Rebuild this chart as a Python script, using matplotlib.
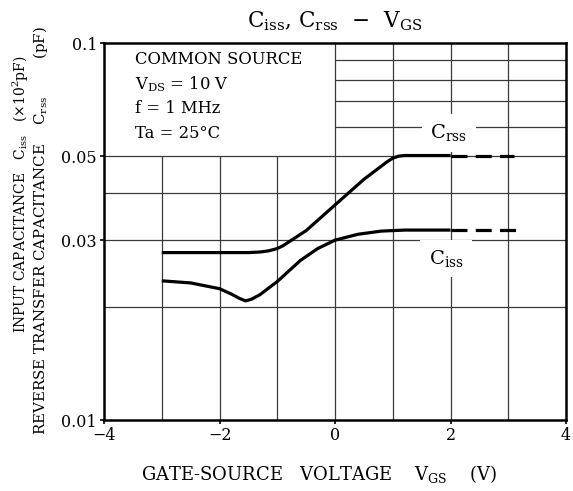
import numpy as np
import matplotlib
matplotlib.use('Agg')
import matplotlib.pyplot as plt

plt.rcParams['font.family'] = 'DejaVu Serif'
plt.rcParams['mathtext.fontset'] = 'dejavuserif'

# --- data ---
crss_x = [-3.0, -2.5, -2.0, -1.5, -1.3, -1.15, -1.0, -0.9, -0.5, 0.0, 0.5, 0.9, 1.0, 1.1, 1.2, 1.5, 2.0]
crss_y = [0.0278, 0.0278, 0.0278, 0.0278, 0.0279, 0.0281, 0.0285, 0.0290, 0.0318, 0.0372, 0.0435, 0.0484, 0.0495, 0.0501, 0.0503, 0.0503, 0.0503]
crss_dash_x = [2.0, 3.1]
crss_dash_y = [0.0503, 0.0503]

ciss_x = [-3.0, -2.5, -2.0, -1.8, -1.65, -1.55, -1.45, -1.3, -1.0, -0.6, -0.3, 0.0, 0.4, 0.8, 1.2, 1.5, 2.0]
ciss_y = [0.0234, 0.0231, 0.0223, 0.0216, 0.0210, 0.0207, 0.0209, 0.0215, 0.0233, 0.0265, 0.0285, 0.0300, 0.0311, 0.0317, 0.0319, 0.0319, 0.0319]
ciss_dash_x = [2.0, 3.15]
ciss_dash_y = [0.0319, 0.0319]

yticks = [0.01, 0.03, 0.05, 0.1]
ytick_labels = ['0.01', '0.03', '0.05', '0.1']
xticks = [-4, -2, 0, 2, 4]
xtick_labels = ['\u22124', '\u22122', '0', '2', '4']

conditions = ['COMMON SOURCE', r'$\mathrm{V_{DS}}$ = 10 V', 'f = 1 MHz', 'Ta = 25\u00b0C']

fig = plt.figure(figsize=(5.73, 4.91), dpi=100)
ax = fig.add_axes([0.1815, 0.1446, 0.8065, 0.7678])
ax.set_yscale('log')
ax.set_xlim(-4, 4)
ax.set_ylim(0.01, 0.1)

# grid (legend box area top-left left blank)
gc = '#3a3a3a'
glw = 0.9
for v in [0.02, 0.03, 0.04, 0.05]:
    ax.axhline(v, color=gc, lw=glw, zorder=1)
for v in [0.06, 0.07, 0.08, 0.09]:
    ax.hlines(v, 0, 4, color=gc, lw=glw, zorder=1)
for v in [-3, -2, -1]:
    ax.vlines(v, 0.01, 0.05, color=gc, lw=glw, zorder=1)
for v in [0, 1, 2, 3]:
    ax.vlines(v, 0.01, 0.1, color=gc, lw=glw, zorder=1)

ax.plot(crss_x, crss_y, color='black', lw=2.3, solid_capstyle='butt', zorder=3)
ax.plot(crss_dash_x, crss_dash_y, color='black', lw=2.3, dashes=(5, 2.6), zorder=3)
ax.plot(ciss_x, ciss_y, color='black', lw=2.3, solid_capstyle='butt', zorder=3)
ax.plot(ciss_dash_x, ciss_dash_y, color='black', lw=2.3, dashes=(5, 2.6), zorder=3)

box = dict(facecolor='white', edgecolor='none', pad=6)
ax.text(1.97, 0.0578, r'$\mathrm{C_{rss}}$', fontsize=14, ha='center', va='center', bbox=box, zorder=2)
ax.text(1.92, 0.0268, r'$\mathrm{C_{iss}}$', fontsize=14, ha='center', va='center', bbox=box, zorder=2)

for i, s in enumerate(conditions):
    ax.text(0.067, 0.955 - i * 0.065, s, transform=ax.transAxes, fontsize=11.8,
            ha='left', va='center')

ax.set_xticks(xticks)
ax.set_xticklabels(xtick_labels)
ax.set_yticks(yticks)
ax.set_yticklabels(ytick_labels)
ax.minorticks_off()
ax.tick_params(axis='both', labelsize=11.5, length=3, width=1.2, pad=2)
for sp in ax.spines.values():
    sp.set_linewidth(1.8)

ax.set_title(r'$\mathrm{C_{iss}}$, $\mathrm{C_{rss}}$  $-$  $\mathrm{V_{GS}}$', fontsize=15.5, pad=11)
ax.set_xlabel(r'GATE-SOURCE   VOLTAGE    $\mathrm{V_{GS}}$    (V)', fontsize=13)
ax.xaxis.set_label_coords(0.465, -0.113)

fig.text(0.036, 0.605, r'INPUT CAPACITANCE   $\mathrm{C_{iss}}$   ($\times$10$^{2}$pF)',
         rotation=90, ha='center', va='center', fontsize=10)
fig.text(0.070, 0.531, r'REVERSE TRANSFER CAPACITANCE    $\mathrm{C_{rss}}$        (pF)',
         rotation=90, ha='center', va='center', fontsize=10.8)

fig.savefig('out.png', dpi=100, facecolor='white')
